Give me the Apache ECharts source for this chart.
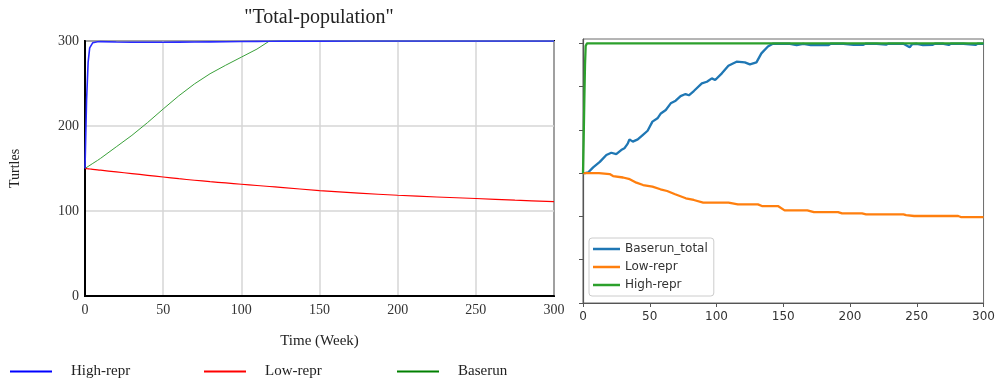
<!DOCTYPE html>
<html>
<head>
<meta charset="utf-8">
<script src="https://cdn.jsdelivr.net/npm/echarts@6/dist/echarts.min.js"></script>
<style>
  html, body { margin: 0; padding: 0; background: #fff; }
  #wrap { position: relative; width: 998px; height: 385px; overflow: hidden; background: #fff; }
  #vensim { position: absolute; left: 0; top: 0; width: 638px; height: 385px; }
  #abm { position: absolute; left: 560px; top: 0; width: 438px; height: 385px; filter: blur(0.5px); }
</style>
</head>
<body>
<div id="wrap">
  <div id="vensim"></div>
  <div id="abm"></div>
</div>
<script>
// ---- System-dynamics run (weeks) ----
const sdTime    = [0, 1, 2, 3, 5, 8, 10, 20, 30, 40, 50, 60, 70, 80, 90, 100, 110, 118, 125, 150, 175, 200, 225, 250, 275, 300];
const sdHigh    = [150, 230, 275, 292, 298, 299.2, 299.3, 298.8, 298.6, 298.6, 298.6, 298.7, 298.8, 299, 299.2, 299.4, 299.6, 299.7, 299.8, 299.9, 300, 300, 300, 300, 300, 300];
const sdLow     = [150, 149.8, 149.6, 149.4, 149, 148.4, 148, 146, 144, 142, 140, 138, 136.2, 134.5, 133, 131.5, 130, 128.8, 127.8, 124, 121, 118.5, 116.5, 114.7, 112.8, 111];
const sdBaserun = [150, 151.2, 152.4, 153.6, 156, 159.5, 162, 175.5, 189, 204, 220, 235.5, 249.5, 261.5, 271.5, 281, 290.5, 300, 300, 300, 300, 300, 300, 300, 300, 300];
const sdXTicks  = [0, 50, 100, 150, 200, 250, 300];

// ---- Agent-based run (weeks) ----
const abTotalTime = [0, 1.5, 4, 7.6, 12.6, 17.5, 21.2, 24.9, 28.6, 31, 33.6, 34.8, 37.3, 41, 44.7, 48.4, 52, 55.8, 58.3, 62, 65.7, 69.4, 73.1, 76.8, 79.3, 83, 89, 92.8, 96.5, 99, 104, 108.9, 115, 121.2, 125, 129.9, 133.6, 138.5, 142.2, 149.6, 151, 152.5, 155, 160, 161, 165, 170.6, 172, 178, 179, 184, 185.5, 195, 202.6, 204, 210, 211.5, 220, 227, 228.5, 240, 243, 244.7, 246.5, 250, 254.6, 256, 262, 263.5, 270, 274, 275.5, 285, 294, 295.5, 300];
const abTotal     = [150, 150, 151, 156.7, 163, 171, 173.6, 172, 176.7, 178.7, 184.5, 189, 186.4, 189, 194, 199, 209.5, 213.4, 219, 223, 230.7, 233.7, 239, 241.4, 240, 244.9, 253.7, 255.6, 259.5, 257.6, 265.3, 274.2, 278.8, 278, 275.7, 278, 288.4, 296.4, 299.5, 299.5, 297.5, 299.5, 299.5, 298, 299.5, 299.5, 298, 299.5, 298.2, 299.5, 298, 299.5, 299.5, 298.3, 299.5, 298.3, 299.5, 299.5, 298.4, 299.5, 299.5, 297, 295.5, 299, 299.5, 298, 299.5, 298.3, 299.5, 299.5, 298.2, 299.5, 299.5, 298.2, 299.5, 299.5];
const abLowTime   = [0, 12, 20, 22.5, 30, 35, 40, 45, 52, 58, 63, 69, 77, 83, 90, 109, 116, 131, 134, 146, 151, 168, 173, 191, 194, 209, 212, 240, 242, 248, 281, 283, 300];
const abLow       = [150, 150, 149, 146.7, 145, 143, 139, 136.3, 134.4, 131.4, 129.4, 125.6, 121, 119, 116, 116, 114, 114, 112, 112, 107, 107, 105, 105, 103.6, 103.6, 102.5, 102.5, 101.6, 100.5, 100.5, 99.3, 99.3];
const abHighTime  = [0, 0.5, 1, 1.5, 2, 3, 300];
const abHigh      = [150, 190, 235, 275, 297, 300, 300];
const abXTicks    = [0, 50, 100, 150, 200, 250, 300];
const abYTicks    = [0, 50, 100, 150, 200, 250, 300];

const pairs = (xs, ys) => xs.map((x, i) => [x, ys[i]]);

const serif = 'Liberation Serif, Times New Roman, serif';
const sans = 'DejaVu Sans, sans-serif';

// Left: Vensim-style plot
const sd = echarts.init(document.getElementById('vensim'), null, { renderer: 'canvas' });
const sdLegend = (name, left) => ({
  data: [name], left: left, top: 359, icon: 'rect', itemWidth: 42, itemHeight: 2,
  selectedMode: false,
  textStyle: { fontFamily: serif, fontSize: 15, color: '#222', padding: [0, 0, 0, 14] }
});
sd.setOption({
  animation: false,
  title: {
    text: '"Total-population"', left: 'center', top: 3,
    textStyle: { fontFamily: serif, fontSize: 20, fontWeight: 'normal', color: '#222' }
  },
  legend: [sdLegend('High-repr', 5), sdLegend('Low-repr', 199), sdLegend('Baserun', 392)],
  grid: { left: 84, top: 41, width: 470, height: 255, show: true, borderColor: '#000', borderWidth: 2, backgroundColor: 'transparent' },
  xAxis: {
    type: 'value', min: sdXTicks[0], max: sdXTicks[sdXTicks.length - 1], interval: 50,
    name: 'Time (Week)', nameLocation: 'middle', nameGap: 38,
    nameTextStyle: { fontFamily: serif, fontSize: 15, color: '#222' },
    axisLine: { lineStyle: { color: '#000', width: 2 } },
    axisTick: { show: false },
    axisLabel: { fontFamily: serif, fontSize: 14, color: '#333', margin: 7 },
    splitLine: { lineStyle: { color: '#d6d6d6', width: 1.5 } }
  },
  yAxis: {
    type: 'value', min: 0, max: 300, interval: 100,
    name: 'Turtles', nameLocation: 'middle', nameGap: 63, nameRotate: 90,
    nameTextStyle: { fontFamily: serif, fontSize: 14, color: '#222' },
    axisLine: { show: true, lineStyle: { color: '#000', width: 2 } },
    axisTick: { show: false },
    axisLabel: { fontFamily: serif, fontSize: 14, color: '#333', margin: 6 },
    splitLine: { lineStyle: { color: '#d6d6d6', width: 1.5 } }
  },
  series: [
    { name: 'Baserun', type: 'line', data: pairs(sdTime, sdBaserun), showSymbol: false,
      color: '#008000', lineStyle: { width: 1, color: '#3aa03a' }, z: 2 },
    { name: 'Low-repr', type: 'line', data: pairs(sdTime, sdLow), showSymbol: false, smooth: 0.3,
      color: '#ff0000', lineStyle: { width: 1.2 }, z: 3 },
    { name: 'High-repr', type: 'line', data: pairs(sdTime, sdHigh), showSymbol: false,
      color: '#0000ff', lineStyle: { width: 1.6, color: '#2a2aff' }, z: 4 }
  ]
});

// Right: matplotlib-style plot of the agent-based run
const ab = echarts.init(document.getElementById('abm'), null, { renderer: 'canvas' });
ab.setOption({
  animation: false,
  legend: {
    orient: 'vertical', left: 29, top: 238, icon: 'rect', itemWidth: 27, itemHeight: 2.5, itemGap: 6,
    selectedMode: false,
    backgroundColor: 'rgba(255,255,255,0.8)', borderColor: '#cccccc', borderWidth: 1, borderRadius: 3,
    padding: [5, 6, 5, 4],
    textStyle: { fontFamily: sans, fontSize: 12, color: '#333' },
    data: ['Baserun_total', 'Low-repr', 'High-repr']
  },
  grid: { left: 23, top: 39, width: 405, height: 264, show: true, borderColor: '#6a6a6a', borderWidth: 1, backgroundColor: '#fff' },
  xAxis: {
    type: 'value', min: abXTicks[0], max: abXTicks[abXTicks.length - 1], interval: 50,
    axisLine: { lineStyle: { color: '#555', width: 1.2 } },
    axisTick: { show: true, length: 4, lineStyle: { color: '#555' } },
    axisLabel: { fontFamily: sans, fontSize: 12, color: '#333', margin: 8 },
    splitLine: { show: false }
  },
  yAxis: {
    type: 'value', min: 0, max: 305,
    axisLine: { show: true, lineStyle: { color: '#555', width: 1.2 } },
    axisTick: { show: true, length: 4, customValues: abYTicks, lineStyle: { color: '#555' } },
    axisLabel: { show: false },
    splitLine: { show: false }
  },
  series: [
    { name: 'Baserun_total', type: 'line', data: pairs(abTotalTime, abTotal), showSymbol: false,
      color: '#1f77b4', lineStyle: { width: 2.3 } },
    { name: 'Low-repr', type: 'line', data: pairs(abLowTime, abLow), showSymbol: false,
      color: '#ff7f0e', lineStyle: { width: 2.3 } },
    { name: 'High-repr', type: 'line', data: pairs(abHighTime, abHigh), showSymbol: false,
      color: '#2ca02c', lineStyle: { width: 2.3 } }
  ]
});
</script>
</body>
</html>
